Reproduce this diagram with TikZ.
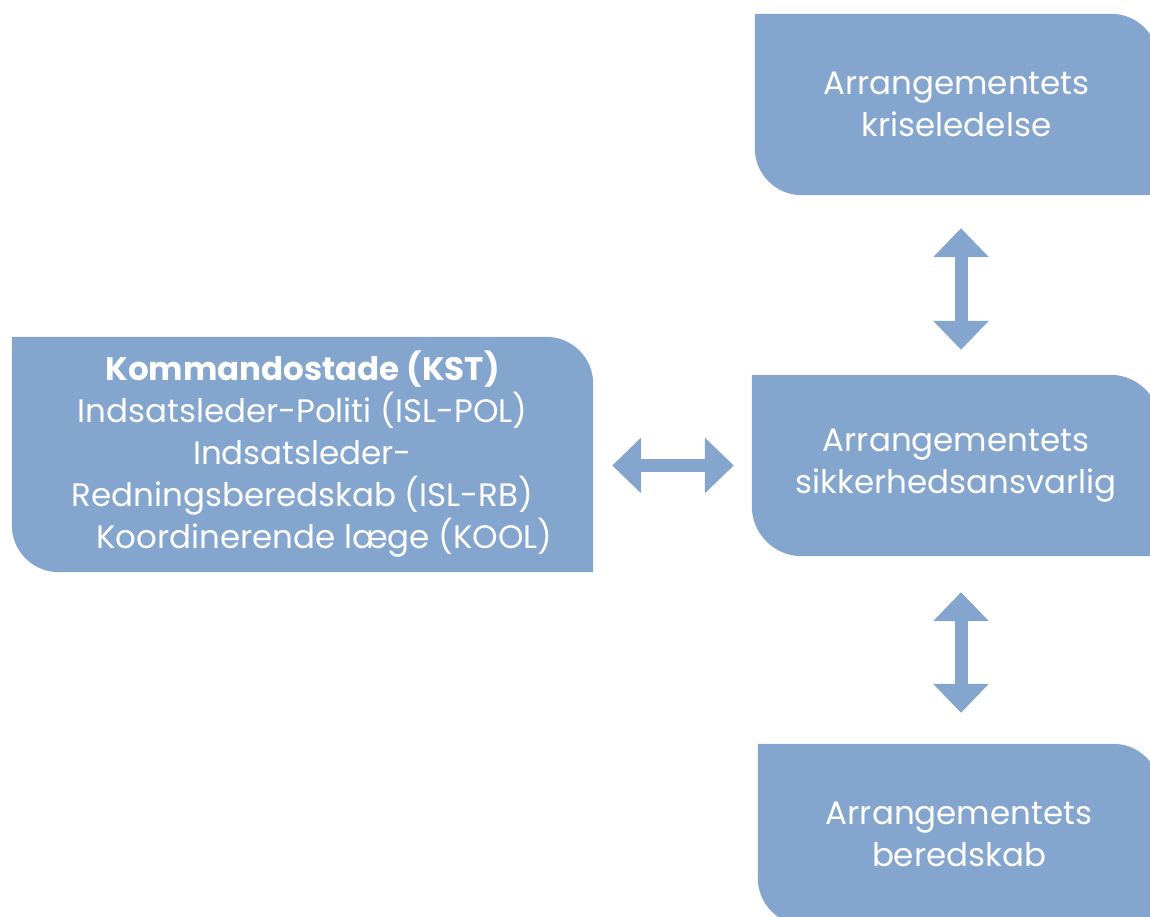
\documentclass[tikz,border=0pt]{standalone}
\usepackage{fontspec}
\setmainfont{Poppins}
\usetikzlibrary{arrows.meta,backgrounds}
\definecolor{boxc}{HTML}{84A5CD}
\tikzset{
  x=1pt,y=1pt,
  leafbox/.style={rectangle, inner sep=0pt, text=white, align=center, font=\fontsize{32.5}{42}\selectfont},
  arr/.style={draw=boxc, line width=13pt, {Triangle[width=54pt,length=29pt]}-{Triangle[width=54pt,length=29pt]}},
}
\newcommand{\leafshape}[2]{%
  \begin{pgfonlayer}{background}
  \fill[boxc] (#1.north west) -- ([xshift=-#2pt]#1.north east)
    arc[start angle=90,end angle=0,radius=#2pt] -- (#1.south east)
    -- ([xshift=#2pt]#1.south west) arc[start angle=270,end angle=180,radius=#2pt] -- cycle;
  \end{pgfonlayer}}
\begin{document}
\begin{tikzpicture}
\useasboundingbox (0,0) rectangle (1150,917);
\clip (0,0) rectangle (1150,917);
\node[leafbox, minimum width=403pt, minimum height=181pt] (top) at (956.5,812.5) {Arrangementets\\kriseledelse};
\node[leafbox, minimum width=408pt, minimum height=181pt] (mid) at (956,451.5) {Arrangementets\\sikkerhedsansvarlig};
\node[leafbox, minimum width=402pt, minimum height=181pt] (bot) at (959,82.5) {Arrangementets\\beredskab};
\node[leafbox, minimum width=581pt, minimum height=235pt] (kst) at (302.5,462.5)
  {\textbf{Kommandostade (KST)}\\Indsatsleder-Politi (ISL-POL)\\Indsatsleder-\\Redningsberedskab (ISL-RB)\\\hspace*{44pt}Koordinerende læge (KOOL)};
\leafshape{top}{47}
\leafshape{mid}{50}
\leafshape{bot}{47}
\leafshape{kst}{47}
\coordinate (ax) at (961,0);
\draw[arr, shorten <=19pt, shorten >=18pt] (kst.east |- mid.west) -- (mid.west);
\draw[arr, shorten <=33pt, shorten >=25pt] (top.south -| ax) -- (mid.north -| ax);
\draw[arr, shorten <=36pt, shorten >=31pt] (mid.south -| ax) -- (bot.north -| ax);
\end{tikzpicture}
\end{document}
